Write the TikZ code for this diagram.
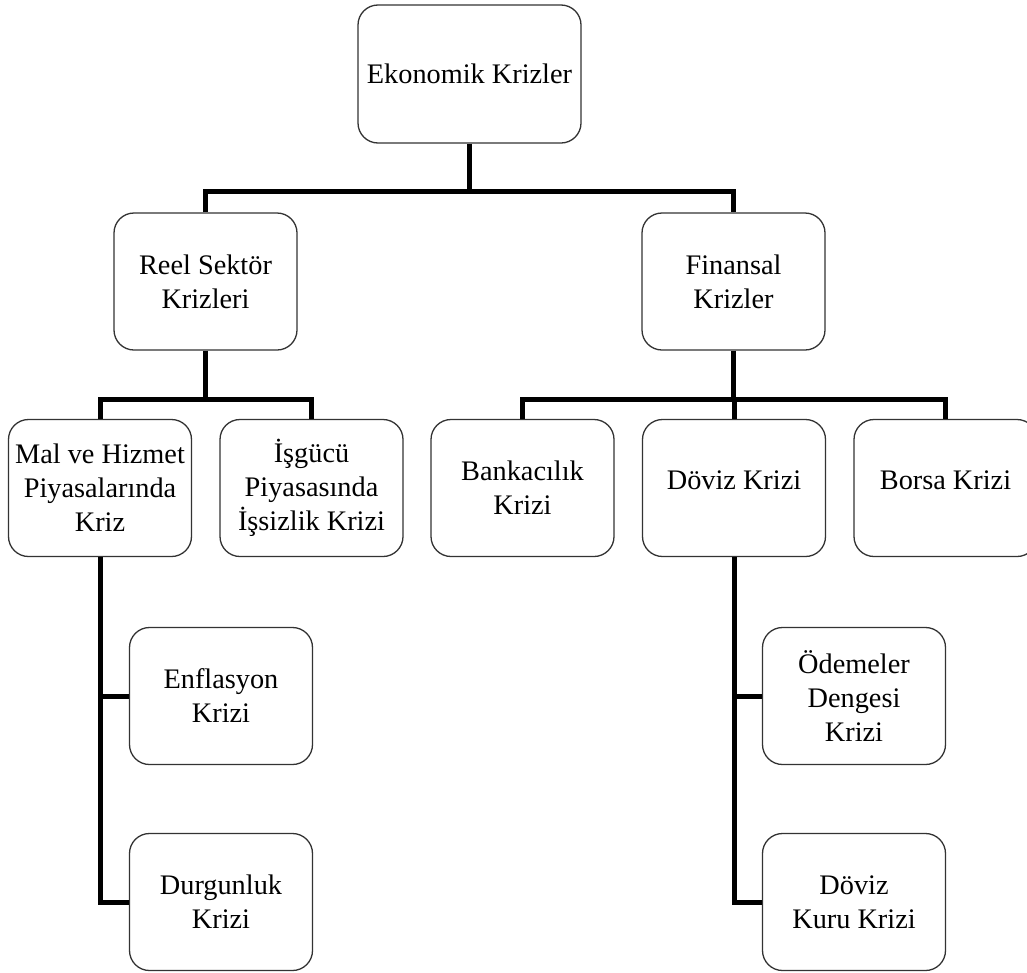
\documentclass[tikz,border=0pt]{standalone}
\usepackage{fontspec}
\setmainfont{Liberation Serif}
\begin{document}
\begin{tikzpicture}[x=1pt,y=-1pt,
  box/.style={draw=black!80, line width=1.3pt, rounded corners=20pt,
    minimum width=183pt, minimum height=137pt, align=center, inner sep=2pt,
    font=\fontsize{28.3}{34}\selectfont, text=black},
  conn/.style={line width=5pt, line join=miter, line cap=butt}]
\useasboundingbox (0,0) rectangle (1027,972);
\node[box, minimum width=223pt, minimum height=138pt] (top) at (469.5,74) {Ekonomik Krizler};
\node[box] (reel) at (205.5,281.5) {Reel Sektör\\Krizleri};
\node[box] (fin) at (733.5,281.5) {Finansal\\Krizler};
\node[box] (mal) at (100,488) {Mal ve Hizmet\\Piyasalarında\\Kriz};
\node[box] (isg) at (311.5,488) {İşgücü\\Piyasasında\\İşsizlik Krizi};
\node[box] (bank) at (522.5,488) {Bankacılık\\Krizi};
\node[box] (doviz) at (734,488) {\raisebox{16pt}{Döviz Krizi}};
\node[box] (borsa) at (945.5,488) {\raisebox{16pt}{Borsa Krizi}};
\node[box] (enfl) at (221,696) {Enflasyon\\Krizi};
\node[box] (durg) at (221,902) {Durgunluk\\Krizi};
\node[box] (odem) at (854,696) {Ödemeler\\Dengesi\\Krizi};
\node[box] (kuru) at (854,902) {Döviz\\Kuru Krizi};
\coordinate (j1) at (469.5,191);
\coordinate (j2) at (205.5,399);
\coordinate (j3) at (733.5,399);
\draw[conn] (top.south) -- (j1);
\draw[conn] (reel.north) -- (reel.north |- j1) -- (fin.north |- j1) -- (fin.north);
\draw[conn] (reel.south) -- (j2);
\draw[conn] (mal.north) -- (mal.north |- j2) -- (isg.north |- j2) -- (isg.north);
\draw[conn] (fin.south) -- (j3);
\draw[conn] (bank.north) -- (bank.north |- j3) -- (borsa.north |- j3) -- (borsa.north);
\draw[conn] (doviz.north |- j3) -- (doviz.north);
\draw[conn] (mal.south) |- (enfl.west);
\draw[conn] (mal.south) |- (durg.west);
\draw[conn] (doviz.south) |- (odem.west);
\draw[conn] (doviz.south) |- (kuru.west);
\end{tikzpicture}
\end{document}
